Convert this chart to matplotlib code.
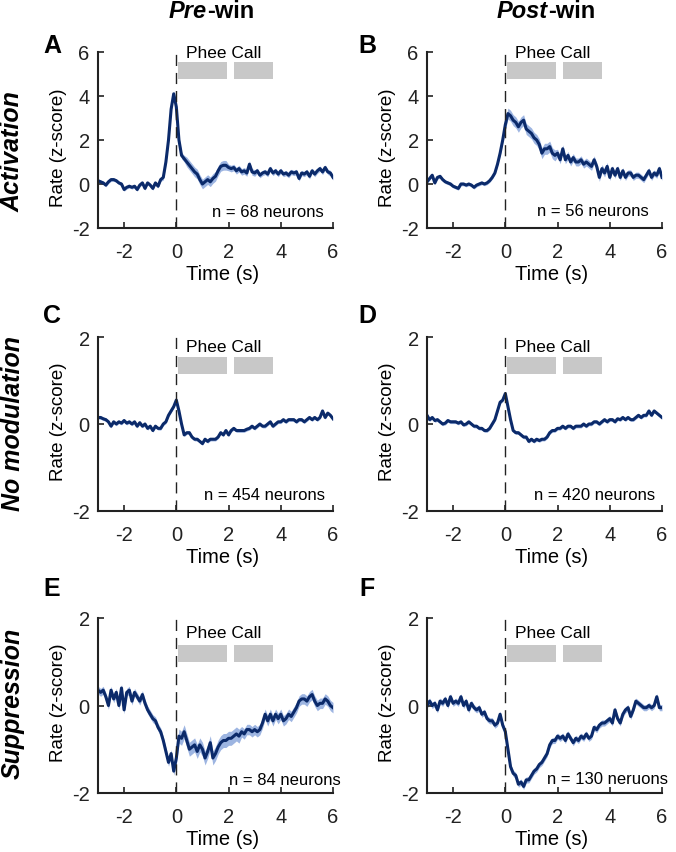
import numpy as np
import matplotlib
matplotlib.use('Agg')
import matplotlib.pyplot as plt

plt.rcParams['font.family'] = ['Liberation Sans', 'DejaVu Sans']
plt.rcParams['axes.unicode_minus'] = False

# eje de tiempo (s), bins de 0.1 s
t = np.round(np.arange(-30, 61) / 10.0, 1)

# A: activacion, pre-win
act_pre = [0.15, 0.10, 0.05, -0.05, 0.10, 0.20, 0.20, 0.15, 0.05, 0.00,
           -0.25, -0.15, -0.10, -0.15, -0.10, -0.25, -0.05, 0.05, -0.20, 0.05,
           -0.05, -0.20, 0.05, -0.10, 0.20, 0.30, 1.00, 2.00, 3.40, 4.10,
           3.50, 2.00, 1.30, 1.15, 1.00, 0.85, 0.70, 0.55, 0.45, 0.20,
           0.00, 0.10, 0.20, 0.10, 0.25, 0.35, 0.60, 0.80, 0.85, 0.85,
           0.75, 0.70, 0.75, 0.60, 0.70, 0.55, 0.60, 0.50, 0.90, 0.55,
           0.50, 0.60, 0.40, 0.50, 0.55, 0.45, 0.70, 0.50, 0.60, 0.45,
           0.60, 0.45, 0.50, 0.40, 0.55, 0.50, 0.55, 0.25, 0.50, 0.45,
           0.55, 0.35, 0.60, 0.45, 0.60, 0.70, 0.55, 0.75, 0.55, 0.50,
           0.30]
act_pre_sem = [0.08] * 25 + [0.12] * 5 + [0.15] * 4 + [0.22] * 16 + [0.15] * 11 + [0.12] * 30

# B: activacion, post-win
act_post = [0.10, 0.25, 0.40, 0.05, 0.30, 0.35, 0.20, 0.10, 0.05, 0.00,
            -0.10, -0.15, -0.20, 0.00, 0.00, -0.05, 0.00, -0.05, -0.15, -0.05,
            0.00, 0.05, 0.00, 0.05, 0.15, 0.30, 0.50, 0.90, 1.40, 2.00,
            2.70, 3.20, 3.10, 2.90, 2.80, 2.60, 2.80, 2.90, 2.50, 2.40,
            2.30, 2.10, 2.00, 1.80, 1.40, 1.60, 1.60, 1.70, 1.40, 1.30,
            1.40, 1.10, 1.60, 1.10, 1.30, 1.00, 1.20, 1.00, 1.00, 1.10,
            0.90, 1.00, 0.90, 0.80, 1.10, 0.80, 0.30, 0.70, 0.50, 0.80,
            0.30, 0.70, 0.40, 0.70, 0.30, 0.60, 0.30, 0.50, 0.50, 0.30,
            0.40, 0.40, 0.30, 0.20, 0.40, 0.60, 0.30, 0.50, 0.40, 0.70,
            0.30]
act_post_sem = [0.08] * 28 + [0.12] * 2 + [0.25] * 20 + [0.18] * 20 + [0.14] * 21

# C: sin modulacion, pre-win
nomod_pre = [0.15, 0.15, 0.12, 0.10, 0.05, -0.05, 0.05, 0.00, 0.05, 0.02,
             0.08, 0.02, 0.05, 0.00, 0.05, -0.05, 0.03, -0.05, 0.00, -0.10,
             -0.05, -0.15, -0.05, -0.10, -0.10, 0.00, 0.05, 0.20, 0.30, 0.40,
             0.55, 0.30, 0.00, -0.25, -0.20, -0.20, -0.30, -0.35, -0.35, -0.40,
             -0.45, -0.35, -0.40, -0.35, -0.35, -0.35, -0.30, -0.20, -0.25, -0.15,
             -0.25, -0.15, -0.10, -0.15, -0.15, -0.15, -0.15, -0.12, -0.10, -0.05,
             -0.10, -0.05, 0.00, -0.05, -0.05, 0.00, 0.05, -0.05, 0.00, 0.05,
             0.05, 0.10, 0.05, 0.10, 0.10, 0.10, 0.05, 0.10, 0.10, 0.05,
             0.10, 0.15, 0.10, 0.15, 0.10, 0.15, 0.30, 0.15, 0.25, 0.20,
             0.12]
nomod_pre_sem = [0.04] * 91

# D: sin modulacion, post-win
nomod_post = [0.20, 0.10, 0.15, 0.08, 0.10, 0.05, 0.00, 0.02, 0.08, 0.05,
              0.05, 0.05, 0.02, 0.05, -0.02, 0.00, 0.05, 0.00, -0.05, -0.05,
              -0.10, -0.10, -0.15, -0.15, -0.10, 0.00, 0.10, 0.30, 0.50, 0.55,
              0.70, 0.40, 0.10, -0.15, -0.20, -0.20, -0.25, -0.30, -0.30, -0.40,
              -0.35, -0.40, -0.35, -0.38, -0.35, -0.35, -0.30, -0.20, -0.15, -0.15,
              -0.10, -0.10, -0.05, -0.10, -0.05, -0.05, -0.10, -0.05, -0.05, -0.05,
              0.00, -0.05, 0.00, 0.00, 0.05, 0.05, 0.00, 0.05, 0.10, 0.05,
              0.10, 0.10, 0.05, 0.12, 0.10, 0.15, 0.10, 0.15, 0.10, 0.10,
              0.15, 0.20, 0.15, 0.20, 0.20, 0.30, 0.20, 0.30, 0.25, 0.20,
              0.15]
nomod_post_sem = [0.04] * 91

# E: supresion, pre-win
sup_pre = [0.35, 0.30, 0.35, 0.20, 0.00, 0.35, 0.15, 0.30, 0.00, 0.40,
           -0.10, 0.30, 0.35, 0.10, 0.30, 0.20, 0.10, 0.25, 0.05, -0.10,
           -0.20, -0.30, -0.35, -0.50, -0.60, -0.80, -1.05, -1.30, -1.10, -1.50,
           -1.20, -0.70, -0.75, -0.60, -0.80, -1.00, -0.95, -0.90, -1.05, -0.90,
           -1.00, -1.20, -1.05, -0.85, -1.20, -1.10, -0.95, -0.85, -0.80, -0.80,
           -0.75, -0.75, -0.70, -0.65, -0.70, -0.60, -0.65, -0.55, -0.55, -0.60,
           -0.55, -0.60, -0.55, -0.40, -0.20, -0.35, -0.20, -0.35, -0.20, -0.30,
           -0.20, -0.35, -0.30, -0.20, -0.25, -0.15, -0.05, 0.10, 0.15, 0.15,
           0.10, 0.20, 0.25, 0.10, 0.00, 0.05, 0.05, 0.15, 0.10, 0.00,
           -0.05]
sup_pre_sem = [0.09] * 30 + [0.16] * 25 + [0.12] * 36

# F: supresion, post-win
sup_post = [0.00, 0.10, 0.00, 0.05, -0.10, 0.10, 0.05, 0.15, 0.00, 0.20,
            0.05, 0.10, 0.05, 0.20, 0.00, 0.10, -0.10, 0.05, -0.05, -0.10,
            -0.05, -0.20, -0.15, -0.30, -0.35, -0.35, -0.45, -0.40, -0.20, -0.45,
            -0.60, -1.00, -1.40, -1.55, -1.60, -1.80, -1.75, -1.85, -1.70, -1.70,
            -1.60, -1.50, -1.45, -1.35, -1.30, -1.20, -1.10, -0.90, -0.80, -0.80,
            -0.70, -0.75, -0.70, -0.80, -0.65, -0.75, -0.85, -0.75, -0.80, -0.70,
            -0.75, -0.65, -0.75, -0.70, -0.50, -0.55, -0.45, -0.40, -0.40, -0.35,
            -0.30, -0.40, -0.10, -0.30, -0.40, -0.20, -0.10, -0.05, -0.25, -0.10,
            0.10, 0.05, 0.00, -0.05, -0.05, 0.00, -0.05, 0.00, 0.20, -0.05,
            -0.05]
sup_post_sem = [0.07] * 91

series = [act_pre, act_post, nomod_pre, nomod_post, sup_pre, sup_post]
sems = [act_pre_sem, act_post_sem, nomod_pre_sem, nomod_post_sem, sup_pre_sem, sup_post_sem]
letras = ['A', 'B', 'C', 'D', 'E', 'F']
n_textos = ['n = 68 neurons', 'n = 56 neurons', 'n = 454 neurons', 'n = 420 neurons',
            'n = 84 neurons', 'n = 130 neruons']
n_x = [1.37, 1.21, 1.06, 1.10, 2.0, 1.6]
n_y = [-1.23, -1.20, -1.63, -1.63, -1.70, -1.68]
filas = ['Activation', 'No modulation', 'Suppression']
ylims = [(-2, 6), (-2, 2), (-2, 2)]
yticks = [[-2, 0, 2, 4, 6], [-2, 0, 2], [-2, 0, 2]]
barra_y = [(4.77, 5.55), (1.14, 1.53), (0.99, 1.38)]
phee_y = [6.0, 1.79, 1.67]
ylab_y = [0.46, 0.52, 0.52]
barras_x = [(0.05, 1.93), (2.2, 3.72)]

linea = '#0b2a6a'
banda = '#7d9cd8'

fig = plt.figure(figsize=(6.76, 8.53), dpi=100)
W, H = 676.0, 853.0
lefts = [98, 427]
rows = [(53, 229), (338, 512), (619, 794)]

for i in range(6):
    r, c = i // 2, i % 2
    top, bot = rows[r]
    ax = fig.add_axes([lefts[c] / W, 1 - bot / H, 235 / W, (bot - top) / H])
    y = np.array(series[i])
    s = np.array(sems[i])
    ax.fill_between(t, y - s, y + s, color=banda, alpha=0.75, lw=0)
    ax.plot(t, y, color=linea, lw=2.2)
    ax.axvline(0, color='#222222', lw=1.0, ls=(0, (8, 5)))
    b0, b1 = barra_y[r]
    for x0, x1 in barras_x:
        ax.add_patch(plt.Rectangle((x0, b0), x1 - x0, b1 - b0, color='#c8c8c8', lw=0, zorder=3))
    ax.text(1.82, phee_y[r], 'Phee Call', ha='center', va='center', fontsize=12.5)
    ax.text(n_x[i], n_y[i], n_textos[i], ha='left', va='center', fontsize=12, clip_on=False)
    ax.set_xlim(-3, 6)
    ax.set_ylim(*ylims[r])
    ax.set_xticks([-2, 0, 2, 4, 6])
    ax.set_yticks(yticks[r])
    for sp in ['top', 'right']:
        ax.spines[sp].set_visible(False)
    for sp in ['left', 'bottom']:
        ax.spines[sp].set_linewidth(1.5)
        ax.spines[sp].set_color('#222222')
    ax.tick_params(direction='in', length=4, width=1.2, labelsize=14.5, colors='#222222')
    ax.tick_params(axis='x', pad=10)
    ax.tick_params(axis='y', pad=6)
    ax.set_xlabel('Time (s)', fontsize=14.5, va='center')
    ax.xaxis.set_label_coords(0.53, -0.26)
    ax.set_ylabel('Rate (z-score)', fontsize=13.5, va='center')
    ax.yaxis.set_label_coords(-0.17, ylab_y[r])
    letra_x = [52, 367][c]
    letra_y = [46, 316, 589][r]
    fig.text(letra_x / W, 1 - letra_y / H, letras[i], fontsize=18, fontweight='bold',
             ha='center', va='center')

# etiquetas de filas
for r, nombre in enumerate(filas):
    yc = [152, 424, 703][r]
    fig.text(13 / W, 1 - yc / H, nombre, rotation=90, fontsize=18, fontweight='bold',
             fontstyle='italic', ha='center', va='center')

# titulos de columnas
fig.text(207 / W, 1 - 12 / H, 'Pre', fontsize=17, fontweight='bold', fontstyle='italic',
         ha='right', va='center')
fig.text(207 / W, 1 - 12 / H, '-win', fontsize=17, fontweight='bold', ha='left', va='center')
fig.text(548 / W, 1 - 12 / H, 'Post', fontsize=17, fontweight='bold', fontstyle='italic',
         ha='right', va='center')
fig.text(548 / W, 1 - 12 / H, '-win', fontsize=17, fontweight='bold', ha='left', va='center')

fig.savefig('out.png', dpi=100)
